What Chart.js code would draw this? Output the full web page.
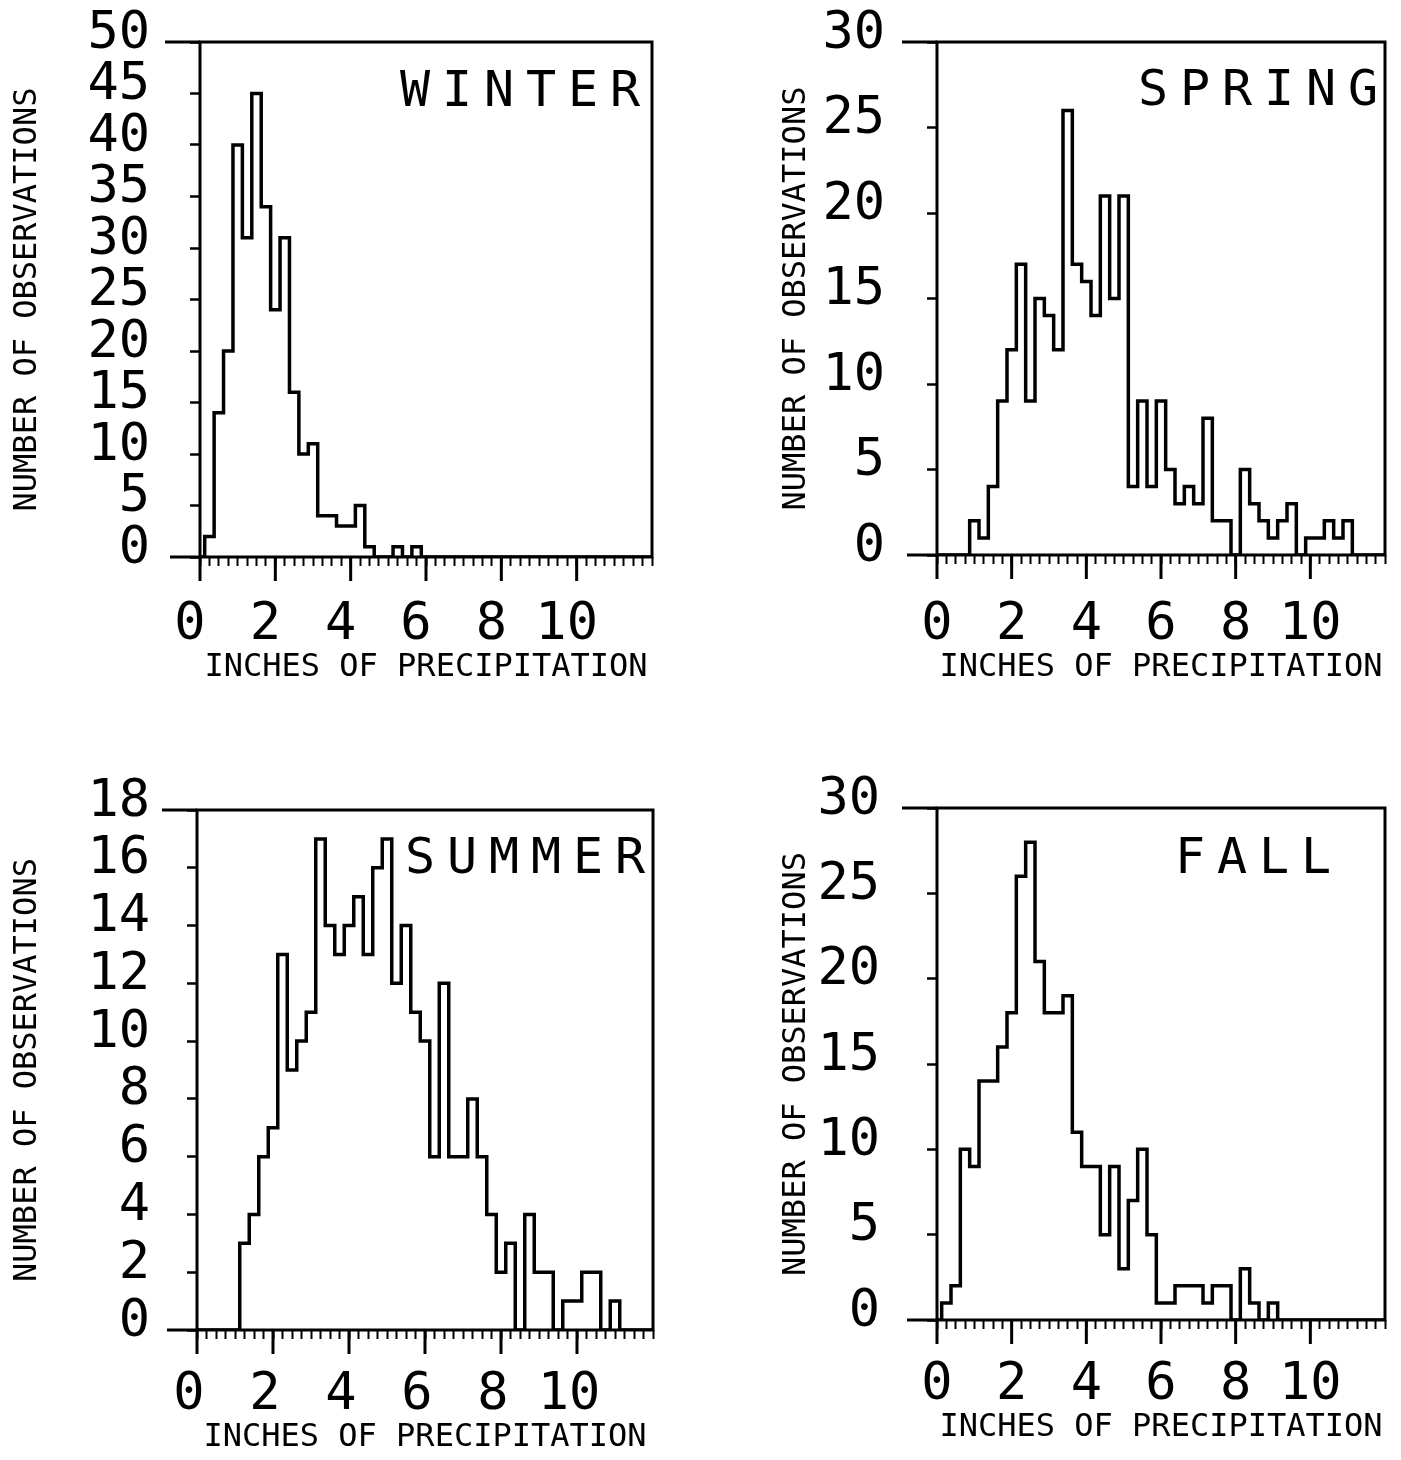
<!DOCTYPE html>
<html>
<head>
<meta charset="utf-8">
<script src="https://cdn.jsdelivr.net/npm/chart.js@4.4.0/dist/chart.umd.min.js"></script>
<style>
  html, body { margin: 0; padding: 0; background: #fff; }
  body { width: 1401px; height: 1460px; position: relative; overflow: hidden; }
  canvas { position: absolute; }
</style>
</head>
<body>
<canvas id="winter" width="700" height="720" style="left:0px;top:0px"></canvas>
<canvas id="spring" width="664" height="720" style="left:737px;top:0px"></canvas>
<canvas id="summer" width="700" height="700" style="left:0px;top:760px"></canvas>
<canvas id="fall" width="664" height="700" style="left:737px;top:760px"></canvas>
<script>
// counts of observations per 0.25 inch bin, bins centred on 0, 0.25, 0.5 ... 11.75 inches
const binWidth = 0.25;
const xMax = 12;
const xTickLabels = [0, 2, 4, 6, 8, 10];

const winterCounts = [0, 2, 14, 20, 40, 31, 45, 34, 24, 31, 16, 10, 11, 4, 4, 3, 3, 5, 1, 0, 0, 1, 0, 1,
                      0, 0, 0, 0, 0, 0, 0, 0, 0, 0, 0, 0, 0, 0, 0, 0, 0, 0, 0, 0, 0, 0, 0, 0];
const springCounts = [0, 0, 0, 0, 2, 1, 4, 9, 12, 17, 9, 15, 14, 12, 26, 17, 16, 14, 21, 15, 21, 4, 9, 4,
                      9, 5, 3, 4, 3, 8, 2, 2, 0, 5, 3, 2, 1, 2, 3, 0, 1, 1, 2, 1, 2, 0, 0, 0];
const summerCounts = [0, 0, 0, 0, 0, 3, 4, 6, 7, 13, 9, 10, 11, 17, 14, 13, 14, 15, 13, 16, 17, 12, 14, 11,
                      10, 6, 12, 6, 6, 8, 6, 4, 2, 3, 0, 4, 2, 2, 0, 1, 1, 2, 2, 0, 1, 0, 0, 0];
const fallCounts   = [0, 1, 2, 10, 9, 14, 14, 16, 18, 26, 28, 21, 18, 18, 19, 11, 9, 9, 5, 9, 3, 7, 10, 5,
                      1, 1, 2, 2, 2, 1, 2, 2, 0, 3, 1, 0, 1, 0, 0, 0, 0, 0, 0, 0, 0, 0, 0, 0];

const winterYTicks = { max: 50, step: 5 };
const springYTicks = { max: 30, step: 5 };
const summerYTicks = { max: 18, step: 2 };
const fallYTicks   = { max: 30, step: 5 };

const MONO = '"DejaVu Sans Mono", "Liberation Mono", monospace';

// left edge of every bin, the last point closes the outline at the right border
function stepPoints(counts) {
  const pts = counts.map((c, i) => ({ x: Math.max(0, i * binWidth - binWidth / 2), y: c }));
  pts.push({ x: xMax, y: 0 });
  return pts;
}

const framePlugin = {
  id: 'frame',
  afterDraw(chart, args, opts) {
    const { ctx, chartArea: a } = chart;
    const x = chart.scales.x;
    ctx.save();
    ctx.strokeStyle = '#000';
    ctx.lineWidth = 3;
    ctx.strokeRect(a.left, a.top, a.right - a.left, a.bottom - a.top);
    ctx.beginPath();
    ctx.moveTo(a.left - 35, a.top);
    ctx.lineTo(a.left, a.top);
    ctx.moveTo(a.left - 30, a.bottom);
    ctx.lineTo(a.left, a.bottom);
    xTickLabels.forEach(v => {
      const px = x.getPixelForValue(v);
      ctx.moveTo(px, a.bottom);
      ctx.lineTo(px, a.bottom + 24);
    });
    ctx.stroke();

    // season name, plotter style wide letters
    ctx.fillStyle = '#000';
    ctx.font = '50px ' + MONO;
    ctx.textBaseline = 'middle';
    ctx.textAlign = 'left';
    [...opts.text].forEach((ch, i) => ctx.fillText(ch, opts.x + i * 42, opts.y));
    ctx.restore();
  }
};

function makePanel(id, counts, yTicks, p) {
  const canvas = document.getElementById(id);
  const W = canvas.width, H = canvas.height;
  const tickFont = { family: MONO, size: 52 };
  const titleFont = { family: MONO, size: 32 };
  const xTickLen = 9, yTickLen = 10;

  return new Chart(canvas, {
    type: 'line',
    data: {
      datasets: [{
        data: stepPoints(counts),
        stepped: 'before',
        borderColor: '#000',
        borderWidth: 3.5,
        pointRadius: 0,
        fill: false
      }]
    },
    options: {
      responsive: false,
      animation: false,
      events: [],
      layout: { padding: { left: 0, top: p.top, right: W - p.right, bottom: 0 } },
      plugins: {
        legend: { display: false },
        tooltip: { enabled: false },
        frame: { text: p.name, x: p.nameX, y: p.nameY }
      },
      scales: {
        x: {
          type: 'linear',
          min: 0,
          max: xMax,
          afterFit: s => {
            s.height = H - p.bottom;
            s.paddingLeft = 0; s.paddingRight = 0;
          },
          border: { display: false },
          grid: { drawOnChartArea: false, drawTicks: true, tickLength: xTickLen, tickColor: '#000', tickWidth: 2 },
          ticks: {
            stepSize: binWidth,
            autoSkip: false,
            maxRotation: 0,
            color: '#000',
            font: tickFont,
            labelOffset: p.xLabelShift,
            padding: p.xLabelY - p.bottom - xTickLen - tickFont.size * 0.6,
            callback: v => xTickLabels.includes(v) ? String(v) : ''
          },
          title: {
            display: true,
            text: 'INCHES OF PRECIPITATION',
            color: '#000',
            font: titleFont,
            padding: { top: 0, bottom: H - p.xTitleY - titleFont.size * 0.6 }
          }
        },
        y: {
          min: 0,
          max: yTicks.max,
          afterFit: s => {
            s.width = p.left;
            s.paddingTop = 0; s.paddingBottom = 0;
          },
          border: { display: false },
          grid: { drawOnChartArea: false, drawTicks: true, tickLength: yTickLen, tickColor: '#000', tickWidth: 2.5 },
          ticks: {
            stepSize: yTicks.step,
            autoSkip: false,
            color: '#000',
            font: tickFont,
            labelOffset: -8,
            padding: p.left - yTickLen - p.yLabelRight
          },
          title: {
            display: true,
            text: 'NUMBER OF OBSERVATIONS',
            color: '#000',
            font: titleFont,
            padding: { top: p.yTitleX - titleFont.size * 0.6, bottom: 0 }
          }
        }
      }
    },
    plugins: [framePlugin]
  });
}

makePanel('winter', winterCounts, winterYTicks, {
  name: 'WINTER', nameX: 400, nameY: 93,
  left: 200, right: 652, top: 42, bottom: 557,
  yLabelRight: 150, yTitleX: 28, xLabelY: 625, xTitleY: 668, xLabelShift: -10
});
makePanel('spring', springCounts, springYTicks, {
  name: 'SPRING', nameX: 401, nameY: 92,
  left: 200, right: 648, top: 42, bottom: 555,
  yLabelRight: 148, yTitleX: 60, xLabelY: 625, xTitleY: 668, xLabelShift: 0
});
makePanel('summer', summerCounts, summerYTicks, {
  name: 'SUMMER', nameX: 405, nameY: 100,
  left: 197, right: 653, top: 50, bottom: 570,
  yLabelRight: 150, yTitleX: 28, xLabelY: 635, xTitleY: 678, xLabelShift: -8
});
makePanel('fall', fallCounts, fallYTicks, {
  name: 'FALL', nameX: 438, nameY: 100,
  left: 200, right: 648, top: 48, bottom: 560,
  yLabelRight: 143, yTitleX: 60, xLabelY: 625, xTitleY: 668, xLabelShift: 0
});
</script>
</body>
</html>
